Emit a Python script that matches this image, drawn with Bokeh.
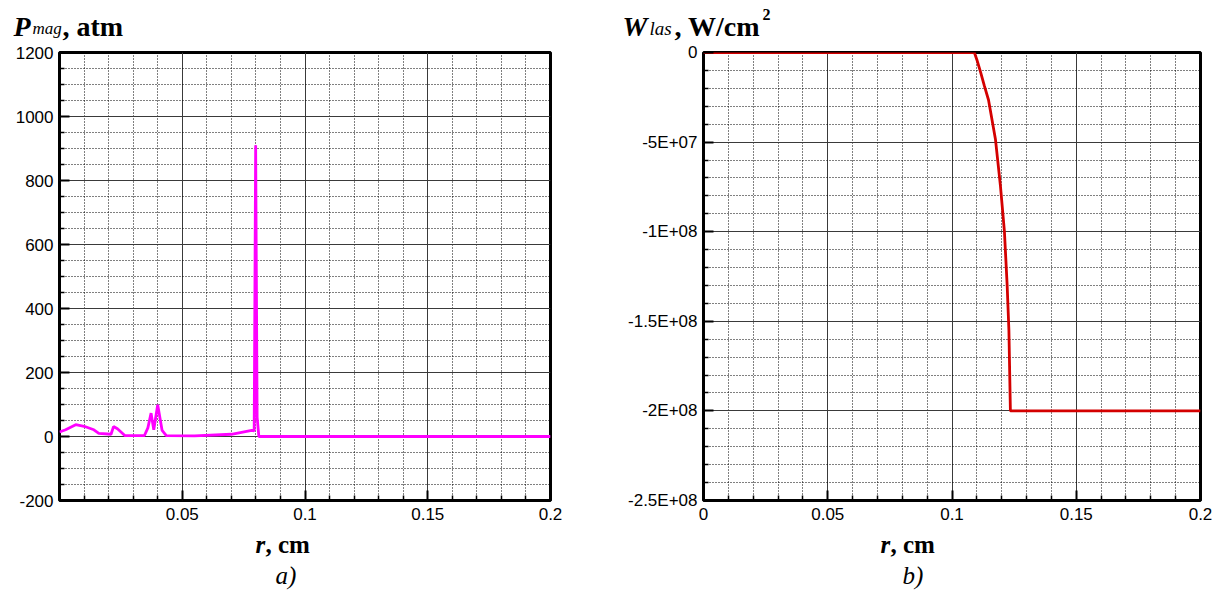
import numpy as np
from bokeh.plotting import figure
from bokeh.layouts import row, column
from bokeh.models import Range1d, FixedTicker, CustomJSTickFormatter
from bokeh.core.properties import value
from bokeh.embed import file_html
from bokeh.resources import INLINE

# ---- data (a) magnetic pressure ----
r_mag = [0.0, 0.0025, 0.0066, 0.0100, 0.0140, 0.0160, 0.0210, 0.0220, 0.0236, 0.0266,
         0.0346, 0.0360, 0.0373, 0.0384, 0.0400, 0.0418, 0.0435, 0.0550, 0.0700, 0.0783,
         0.0793, 0.0799, 0.0805, 0.0812, 0.2000]
p_mag = [14, 21, 37, 32, 21, 10, 7, 31, 24, 3,
         3, 27, 73, 21, 99, 19, 3, 2, 7, 19,
         18, 910, 60, 0, 0]

# ---- data (b) laser energy flux ----
r_las = [0.0, 0.1090, 0.1100, 0.1115, 0.1130, 0.1147, 0.1175, 0.1195, 0.1211, 0.1222,
         0.1229, 0.1235, 0.2000]
w_las = [0.0, 0.0, -4e6, -1.1e7, -1.85e7, -2.65e7, -4.86e7, -7.46e7, -1.0e8, -1.3e8,
         -1.55e8, -2.0e8, -2.0e8]

# ---- tick labels ----
mag_x_ticks = [0.05, 0.1, 0.15, 0.2]
mag_x_labels = ["0.05", "0.1", "0.15", "0.2"]
mag_y_ticks = [-200, 0, 200, 400, 600, 800, 1000, 1200]
mag_y_labels = ["-200", "0", "200", "400", "600", "800", "1000", "1200"]
las_x_ticks = [0.0, 0.05, 0.1, 0.15, 0.2]
las_x_labels = ["0", "0.05", "0.1", "0.15", "0.2"]
las_y_ticks = [-2.5e8, -2e8, -1.5e8, -1e8, -5e7, 0.0]
las_y_labels = ["-2.5E+08", "-2E+08", "-1.5E+08", "-1E+08", "-5E+07", "0"]

SERIF = "Liberation Serif"
SANS = "Liberation Sans"

FMT_CODE = """
for (let i = 0; i < tks.length; i++) {
  if (Math.abs(tks[i] - tick) <= 1e-9 * Math.max(1, Math.abs(tks[i]))) return labels[i];
}
return "";
"""


def fmt(ticks, labels):
    return CustomJSTickFormatter(args=dict(tks=ticks, labels=labels), code=FMT_CODE)


def minor(lo, hi, step, majors):
    vals = np.round(np.arange(lo, hi + step / 2, step), 10)
    return [float(v) for v in vals if not any(abs(v - m) < step / 100 for m in majors)]


TOP = 11     # plot border above the frame (frame top lands at y = 41 + 11 = 52)
BOTTOM = 27  # plot border below the frame (room for the x tick labels)
FRAME_H = 448


def make_fig(xr, yr, xt, xl, yt, yl, xstep, ystep, fw, bl, br):
    p = figure(frame_width=fw, frame_height=FRAME_H, x_range=Range1d(*xr), y_range=Range1d(*yr),
               min_border_left=bl, min_border_right=br, min_border_top=TOP,
               min_border_bottom=BOTTOM, toolbar_location=None, output_backend="svg",
               background_fill_color="white", border_fill_color="white")
    xtk = FixedTicker(ticks=xt, minor_ticks=minor(xr[0], xr[1], xstep, xt + [xr[0]]))
    ytk = FixedTicker(ticks=yt, minor_ticks=minor(yr[0], yr[1], ystep, yt))
    p.xaxis.ticker = xtk
    p.yaxis.ticker = ytk
    p.xgrid.ticker = xtk
    p.ygrid.ticker = ytk
    p.xaxis.formatter = fmt(xt, xl)
    p.yaxis.formatter = fmt(yt, yl)
    for ax in (p.xaxis, p.yaxis):
        ax.axis_line_color = None
        ax.major_tick_in = 10
        ax.major_tick_out = 0
        ax.minor_tick_in = 5
        ax.minor_tick_out = 0
        ax.major_tick_line_color = "black"
        ax.major_tick_line_width = 2
        ax.minor_tick_line_color = "black"
        ax.minor_tick_line_width = 1.5
        ax.major_label_text_font = SANS
        ax.major_label_text_font_size = "17px"
        ax.major_label_text_color = "black"
    p.xaxis.major_label_standoff = 7
    p.yaxis.major_label_standoff = 6
    for g in (p.xgrid, p.ygrid):
        g.grid_line_color = "#3a3a3a"
        g.grid_line_width = 1
        g.grid_line_alpha = 1
        g.minor_grid_line_color = "black"
        g.minor_grid_line_dash = "1 2"
        g.minor_grid_line_width = 1
        g.minor_grid_line_alpha = 1
    p.outline_line_color = "black"
    p.outline_line_width = 3
    p.outline_line_alpha = 1
    return p


def text_fig(w, h):
    t = figure(width=w, height=h, x_range=Range1d(0, w), y_range=Range1d(h, 0),
               min_border=0, min_border_left=0, min_border_right=0, min_border_top=0,
               min_border_bottom=0, title=None, toolbar_location=None, output_backend="svg",
               x_axis_location=None, y_axis_location=None, outline_line_color=None,
               background_fill_color="white", border_fill_color="white")
    t.grid.visible = False
    return t


SHIFT = -7


def put(t, x, y, txt, size, style):
    t.text(x=[x], y=[y + SHIFT], text=[txt], text_font=value(SERIF), text_font_size=value(size),
           text_font_style=style, text_color="black", text_align="left",
           text_baseline="alphabetic")


# ---------------- figure a ----------------
pa = make_fig((0, 0.2), (-200, 1200), mag_x_ticks, mag_x_labels, mag_y_ticks, mag_y_labels,
              0.01, 50, 491, 59, 50)
pa.line(r_mag, p_mag, line_color="#FF00FF", line_width=2.8)

# ---------------- figure b ----------------
pb = make_fig((0, 0.2), (-2.5e8, 0), las_x_ticks, las_x_labels, las_y_ticks, las_y_labels,
              0.01, 1e7, 497, 103, 20)
pb.line(r_las, w_las, line_color="#D40000", line_width=2.8)

# ---------------- titles (top strip, 41 px) ----------------
ta = text_fig(600, 41)
put(ta, 13, 33, "P", "28px", "bold italic")
put(ta, 32, 35, "mag", "17px", "italic")
put(ta, 62, 33, ", atm", "28px", "bold")

tb = text_fig(620, 41)
put(tb, 22, 33, "W", "28px", "bold italic")
put(tb, 49, 35, "las", "19px", "italic")
put(tb, 74, 33, ", W/cm", "28px", "bold")
put(tb, 162, 21, "2", "16px", "bold")

# ---------------- axis captions (bottom strip) ----------------
CAP_H = 590 - 41 - (TOP + FRAME_H + BOTTOM)
ba = text_fig(600, CAP_H)
put(ba, 255, 24, "r", "25px", "bold italic")
put(ba, 265, 24, ", cm", "25px", "bold")
put(ba, 275, 55, "a)", "25px", "italic")

bb = text_fig(620, CAP_H)
put(bb, 280, 24, "r", "25px", "bold italic")
put(bb, 290, 24, ", cm", "25px", "bold")
put(bb, 302, 55, "b)", "25px", "italic")

layout = column(row(ta, tb, spacing=0), row(pa, pb, spacing=0), row(ba, bb, spacing=0),
                spacing=0)
open("out.html", "w").write(file_html(layout, INLINE))
